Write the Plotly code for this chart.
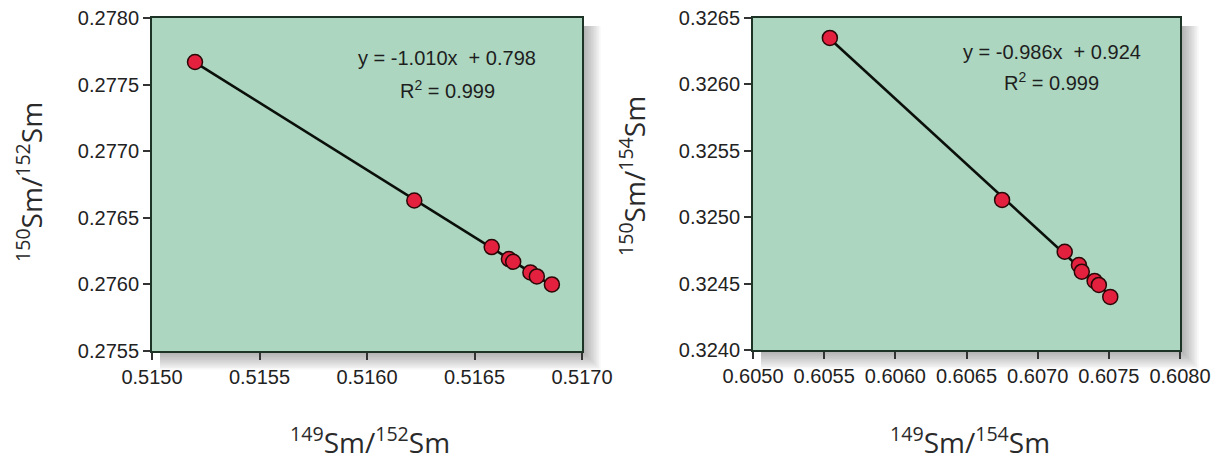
import numpy as np
import plotly.graph_objects as go

# Samarium isotope ratios, normalised to 152Sm (left panel) and 154Sm (right panel)
sm149_152 = [0.51520, 0.51622, 0.51658, 0.51666, 0.51668, 0.51676, 0.51679, 0.51686]
sm150_152 = [0.27767, 0.27663, 0.27628, 0.27619, 0.27617, 0.27609, 0.27606, 0.27600]

sm149_154 = [0.60554, 0.60675, 0.60719, 0.60729, 0.60731, 0.60740, 0.60743, 0.60751]
sm150_154 = [0.32635, 0.32513, 0.32474, 0.32464, 0.32459, 0.32452, 0.32449, 0.32440]

eq_left = ["y = -1.010x  + 0.798", "R<sup>2</sup> = 0.999"]
eq_right = ["y = -0.986x  + 0.924", "R<sup>2</sup> = 0.999"]

x_ticks_left = [0.5150, 0.5155, 0.5160, 0.5165, 0.5170]
y_ticks_left = [0.2755, 0.2760, 0.2765, 0.2770, 0.2775, 0.2780]
x_ticks_right = [0.6050, 0.6055, 0.6060, 0.6065, 0.6070, 0.6075, 0.6080]
y_ticks_right = [0.3240, 0.3245, 0.3250, 0.3255, 0.3260, 0.3265]

W, H = 1220, 460
PLOT_BG = "#acd6c0"
FRAME = "#1c3325"
MARKER = "#e3203e"
TICK_FONT = dict(family="Liberation Sans, Arial, sans-serif", size=20, color="#222222")
TITLE_FONT = dict(family="Open Sans, sans-serif", size=28, color="#2a2a2a")
EQ_FONT = dict(family="Liberation Sans, Arial, sans-serif", size=20, color="#1e1e1e")

# panel placement in pixels: (left, right, top, bottom)
panels = {
    "left": (152, 582, 18, 351),
    "right": (753, 1180, 18, 350),
}


def px_dom(p):
    l, r, t, b = p
    return [l / W, r / W], [1 - b / H, 1 - t / H]


fig = go.Figure()


def add_panel(xs, ys, xaxis, yaxis):
    xs = np.array(xs)
    ys = np.array(ys)
    slope, icpt = np.polyfit(xs, ys, 1)
    xl = np.array([xs.min(), xs.max()])
    fig.add_trace(go.Scatter(
        x=xl, y=slope * xl + icpt, mode="lines",
        line=dict(color="#0a0f0a", width=2.6),
        xaxis=xaxis, yaxis=yaxis, showlegend=False, hoverinfo="skip"))
    fig.add_trace(go.Scatter(
        x=xs, y=ys, mode="markers",
        marker=dict(size=15, color=MARKER, line=dict(color="#2a0808", width=1.5)),
        xaxis=xaxis, yaxis=yaxis, showlegend=False))


add_panel(sm149_152, sm150_152, "x", "y")
add_panel(sm149_154, sm150_154, "x2", "y2")

shapes = []
for key in ("left", "right"):
    l, r, t, b = panels[key]
    # soft drop shadow toward lower right
    for i in range(12):
        shapes.append(dict(
            type="rect", xref="paper", yref="paper", layer="below",
            x0=(l + 8) / W, x1=(r + 1 + i * 1.6) / W,
            y0=1 - (b + 1 + i * 1.6) / H, y1=1 - (t + 8) / H,
            line=dict(width=0), fillcolor="rgba(60,60,60,0.045)"))
    shapes.append(dict(
        type="rect", xref="paper", yref="paper", layer="below",
        x0=l / W, x1=r / W, y0=1 - b / H, y1=1 - t / H,
        line=dict(width=0), fillcolor=PLOT_BG))

axis_common = dict(
    showgrid=False, zeroline=False, showline=True, linecolor=FRAME, linewidth=2,
    mirror=True, ticks="outside", ticklen=7, tickwidth=1.5, tickcolor="#333333",
    tickfont=TICK_FONT, tickformat=".4f", automargin=False,
)

xd1, yd1 = px_dom(panels["left"])
xd2, yd2 = px_dom(panels["right"])

fig.update_layout(
    width=W, height=H,
    margin=dict(l=0, r=0, t=0, b=0, autoexpand=False),
    paper_bgcolor="white",
    plot_bgcolor="rgba(0,0,0,0)",
    xaxis=dict(domain=xd1, range=[0.5150, 0.5170], tickvals=x_ticks_left,
               anchor="y", **axis_common),
    yaxis=dict(domain=yd1, range=[0.2755, 0.2780], tickvals=y_ticks_left,
               anchor="x", **axis_common),
    xaxis2=dict(domain=xd2, range=[0.6050, 0.6080], tickvals=x_ticks_right,
                anchor="y2", **axis_common),
    yaxis2=dict(domain=yd2, range=[0.3240, 0.3265], tickvals=y_ticks_right,
                anchor="x2", **axis_common),
    shapes=shapes,
)


def ann(text, x, y, font, angle=0):
    return dict(text=text, x=x / W, y=1 - y / H, xref="paper", yref="paper",
                xanchor="center", yanchor="middle", showarrow=False,
                font=font, textangle=angle)


annotations = [
    ann(eq_left[0], 447, 58, EQ_FONT),
    ann(eq_left[1], 447, 89, EQ_FONT),
    ann(eq_right[0], 1052, 52, EQ_FONT),
    ann(eq_right[1], 1051, 82, EQ_FONT),
    ann("<sup>149</sup>Sm/<sup>152</sup>Sm", 370, 440, TITLE_FONT),
    ann("<sup>149</sup>Sm/<sup>154</sup>Sm", 970, 440, TITLE_FONT),
    ann("<sup>150</sup>Sm/<sup>152</sup>Sm", 30, 182, TITLE_FONT, -90),
    ann("<sup>150</sup>Sm/<sup>154</sup>Sm", 632, 176, TITLE_FONT, -90),
]
fig.update_layout(annotations=annotations)

fig.write_html("out.html")
